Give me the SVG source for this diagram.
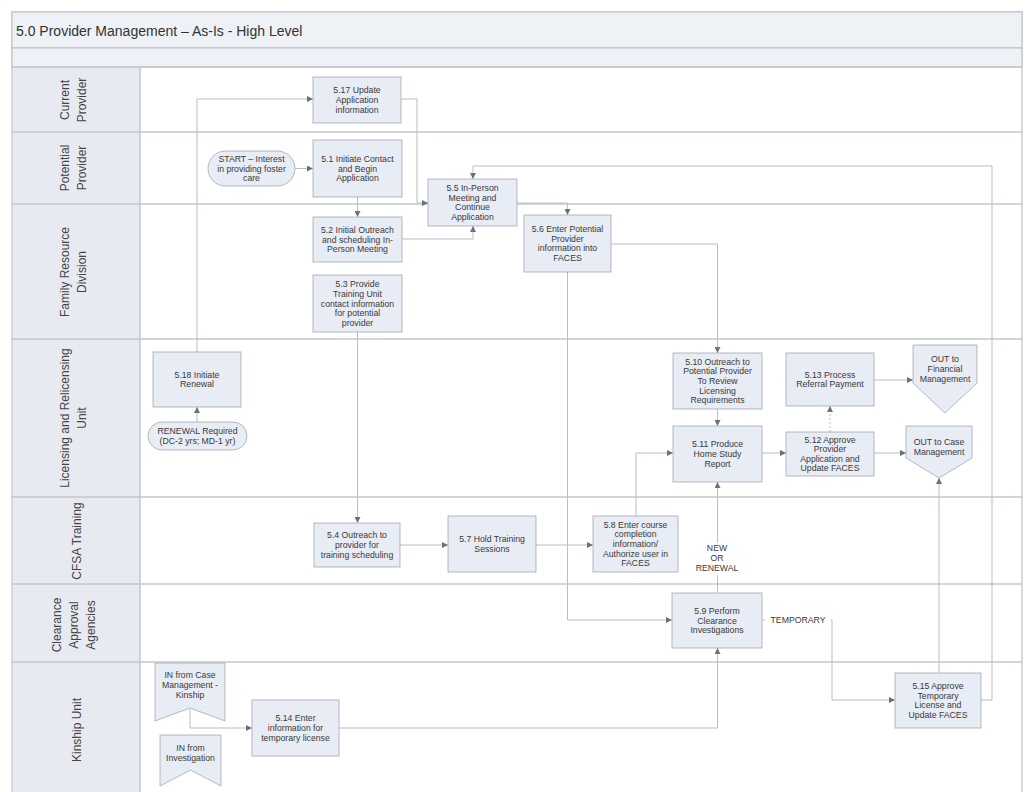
<svg xmlns="http://www.w3.org/2000/svg" width="1030" height="792" viewBox="0 0 1030 792">
<style>
.frame{fill:#ffffff;stroke:#b9bec5;stroke-width:1.2}
.band{fill:#eef1f5;stroke:#b9bec5;stroke-width:1}
.hdr{fill:#e7ebf1;stroke:none}
.sep{stroke:#c3c7cd;stroke-width:1.5}
.title{font-family:"Liberation Sans",Arial,sans-serif;font-size:14px;fill:#333}
.lane{font-family:"Liberation Sans",Arial,sans-serif;font-size:12px;fill:#444;text-anchor:middle}
.box{fill:#e8ecf4;stroke:#a3a9b1;stroke-width:0.8}
.t{font-family:"Liberation Sans",Arial,sans-serif;font-size:8.7px;fill:#3a3a3a;text-anchor:middle}
.c{fill:none;stroke:#b9bec5;stroke-width:1;marker-end:url(#ah)}
</style>
<defs>
<marker id="ah" markerUnits="userSpaceOnUse" markerWidth="6" markerHeight="6" refX="6" refY="3" orient="auto">
<path d="M0,0 L6,3 L0,6 z" fill="#6c7077"/>
</marker>
</defs>

<!-- frame, title, lanes -->
<rect class="frame" x="12" y="12" width="1010" height="782"/>
<rect class="band" x="12" y="12" width="1010" height="36"/>
<text class="title" x="16" y="36">5.0 Provider Management – As-Is - High Level</text>
<rect class="band" x="12" y="48" width="1010" height="19"/>
<rect class="hdr" x="13" y="67" width="127" height="725"/>
<line class="sep" x1="140" y1="67" x2="140" y2="792"/>
<g id="lane-lines">
<line class="sep" x1="12" y1="67" x2="1022" y2="67"/>
<line class="sep" x1="12" y1="132" x2="1022" y2="132"/>
<line class="sep" x1="12" y1="204" x2="1022" y2="204"/>
<line class="sep" x1="12" y1="339" x2="1022" y2="339"/>
<line class="sep" x1="12" y1="497" x2="1022" y2="497"/>
<line class="sep" x1="12" y1="584" x2="1022" y2="584"/>
<line class="sep" x1="12" y1="662" x2="1022" y2="662"/>
</g>
<g id="lane-labels">
<text class="lane" transform="translate(69,100) rotate(-90)"><tspan x="0" dy="0">Current</tspan><tspan x="0" dy="17">Provider</tspan></text>
<text class="lane" transform="translate(69,168) rotate(-90)"><tspan x="0" dy="0">Potential</tspan><tspan x="0" dy="17">Provider</tspan></text>
<text class="lane" transform="translate(69,272) rotate(-90)"><tspan x="0" dy="0">Family Resource</tspan><tspan x="0" dy="17">Division</tspan></text>
<text class="lane" transform="translate(69,418) rotate(-90)"><tspan x="0" dy="0">Licensing and Relicensing</tspan><tspan x="0" dy="17">Unit</tspan></text>
<text class="lane" transform="translate(81,541) rotate(-90)">CFSA Training</text>
<text class="lane" transform="translate(61,625) rotate(-90)"><tspan x="0" dy="0">Clearance</tspan><tspan x="0" dy="17">Approval</tspan><tspan x="0" dy="17">Agencies</tspan></text>
<text class="lane" transform="translate(81,730) rotate(-90)">Kinship Unit</text>
</g>

<!-- connectors -->
<g id="connectors">
<path class="c" d="M295,168.5 H313"/>
<path class="c" d="M357.5,197 V217"/>
<path class="c" d="M402,239 H473 V226"/>
<path class="c" d="M197,352 V99 H313"/>
<path class="c" d="M401,99 H417 V203 H428"/>
<path class="c" d="M981,700 H992 V166 H473 V179"/>
<path class="c" d="M517,203 H567.5 V215"/>
<path class="c" d="M611,244 H717.5 V353"/>
<path class="c" d="M567.5,272 V620 H672"/>
<path class="c" d="M357.5,332 V523"/>
<path class="c" d="M400,545 H448"/>
<path class="c" d="M536,545 H593"/>
<path class="c" d="M636,516 V453 H673"/>
<path class="c" d="M717.5,409 V426"/>
<path class="c" d="M762,453 H786"/>
<path class="c" d="M874,453 H906"/>
<path class="c" d="M874,380 H913"/>
<path class="c" d="M830,432 V406" stroke-dasharray="2,2"/>
<path class="c" d="M717.5,593 V482"/>
<path class="c" d="M762,620 H832 V700 H895"/>
<path class="c" d="M939,673 V478"/>
<path class="c" d="M339,728 H717.5 V648"/>
<path class="c" d="M197,422 V407"/>
<path class="c" d="M190,709 V728 H252"/>
</g>

<!-- nodes -->
<g id="n517"><rect class="box" x="313" y="77" width="88" height="46"/>
<text class="t"><tspan x="357" y="93.4">5.17 Update</tspan><tspan x="357" y="103">Application</tspan><tspan x="357" y="112.6">information</tspan></text></g>

<g id="start"><rect class="box" x="208" y="151" width="87" height="35" rx="17.5"/>
<text class="t"><tspan x="251.5" y="161.9">START – Interest</tspan><tspan x="251.5" y="171.5">in providing foster</tspan><tspan x="251.5" y="181.1">care</tspan></text></g>

<g id="n51"><rect class="box" x="313" y="140" width="89" height="57"/>
<text class="t"><tspan x="357.5" y="161.9">5.1 Initiate Contact</tspan><tspan x="357.5" y="171.5">and Begin</tspan><tspan x="357.5" y="181.1">Application</tspan></text></g>

<g id="n52"><rect class="box" x="313" y="217" width="89" height="45"/>
<text class="t"><tspan x="357.5" y="232.9">5.2 Initial Outreach</tspan><tspan x="357.5" y="242.5">and scheduling In-</tspan><tspan x="357.5" y="252.1">Person Meeting</tspan></text></g>

<g id="n53"><rect class="box" x="313" y="275" width="89" height="57"/>
<text class="t"><tspan x="357.5" y="287.3">5.3 Provide</tspan><tspan x="357.5" y="296.9">Training Unit</tspan><tspan x="357.5" y="306.5">contact information</tspan><tspan x="357.5" y="316.1">for potential</tspan><tspan x="357.5" y="325.7">provider</tspan></text></g>

<g id="n55"><rect class="box" x="428" y="179" width="89" height="47"/>
<text class="t"><tspan x="472.5" y="191.1">5.5 In-Person</tspan><tspan x="472.5" y="200.7">Meeting and</tspan><tspan x="472.5" y="210.3">Continue</tspan><tspan x="472.5" y="219.9">Application</tspan></text></g>

<g id="n56"><rect class="box" x="524" y="215" width="87" height="57"/>
<text class="t"><tspan x="567.5" y="232.1">5.6 Enter Potential</tspan><tspan x="567.5" y="241.7">Provider</tspan><tspan x="567.5" y="251.3">information into</tspan><tspan x="567.5" y="260.9">FACES</tspan></text></g>

<g id="n518"><rect class="box" x="153" y="352" width="88" height="55"/>
<text class="t"><tspan x="197" y="377.7">5.18 Initiate</tspan><tspan x="197" y="387.3">Renewal</tspan></text></g>

<g id="renewal"><rect class="box" x="148" y="422" width="99" height="28" rx="14"/>
<text class="t"><tspan x="197.5" y="434.2">RENEWAL Required</tspan><tspan x="197.5" y="443.8">(DC-2 yrs; MD-1 yr)</tspan></text></g>

<g id="n510"><rect class="box" x="673" y="353" width="89" height="56"/>
<text class="t"><tspan x="717.5" y="364.8">5.10 Outreach to</tspan><tspan x="717.5" y="374.4">Potential Provider</tspan><tspan x="717.5" y="384">To Review</tspan><tspan x="717.5" y="393.6">Licensing</tspan><tspan x="717.5" y="403.2">Requirements</tspan></text></g>

<g id="n513"><rect class="box" x="786" y="353" width="88" height="53"/>
<text class="t"><tspan x="830" y="377.7">5.13 Process</tspan><tspan x="830" y="387.3">Referral Payment</tspan></text></g>

<g id="outfin"><polygon class="box" points="913,345 977,345 977,383 945,413 913,383"/>
<text class="t"><tspan x="945" y="362">OUT to</tspan><tspan x="945" y="372">Financial</tspan><tspan x="945" y="382">Management</tspan></text></g>

<g id="n511"><rect class="box" x="673" y="426" width="89" height="56"/>
<text class="t"><tspan x="717.5" y="447.4">5.11 Produce</tspan><tspan x="717.5" y="457">Home Study</tspan><tspan x="717.5" y="466.6">Report</tspan></text></g>

<g id="n512"><rect class="box" x="786" y="432" width="88" height="44"/>
<text class="t"><tspan x="830" y="442.6">5.12 Approve</tspan><tspan x="830" y="452.2">Provider</tspan><tspan x="830" y="461.8">Application and</tspan><tspan x="830" y="471.4">Update FACES</tspan></text></g>

<g id="outcase"><polygon class="box" points="906,426 972,426 972,458 939,478 906,458"/>
<text class="t"><tspan x="939" y="445">OUT to Case</tspan><tspan x="939" y="455">Management</tspan></text></g>

<g id="n54"><rect class="box" x="314" y="523" width="86" height="44"/>
<text class="t"><tspan x="357" y="538.4">5.4 Outreach to</tspan><tspan x="357" y="548">provider for</tspan><tspan x="357" y="557.6">training scheduling</tspan></text></g>

<g id="n57"><rect class="box" x="448" y="516" width="88" height="56"/>
<text class="t"><tspan x="492" y="542.2">5.7 Hold Training</tspan><tspan x="492" y="551.8">Sessions</tspan></text></g>

<g id="n58"><rect class="box" x="593" y="516" width="85" height="56"/>
<text class="t"><tspan x="635.5" y="527.8">5.8 Enter course</tspan><tspan x="635.5" y="537.4">completion</tspan><tspan x="635.5" y="547">information/</tspan><tspan x="635.5" y="556.6">Authorize user in</tspan><tspan x="635.5" y="566.2">FACES</tspan></text></g>

<g id="lbl-new"><rect x="695" y="543" width="44" height="32" fill="#ffffff"/>
<text class="t"><tspan x="717" y="551">NEW</tspan><tspan x="717" y="561">OR</tspan><tspan x="717" y="571">RENEWAL</tspan></text></g>

<g id="n59"><rect class="box" x="672" y="593" width="90" height="55"/>
<text class="t"><tspan x="717" y="613.9">5.9 Perform</tspan><tspan x="717" y="623.5">Clearance</tspan><tspan x="717" y="633.1">Investigations</tspan></text></g>

<g id="lbl-temp"><rect x="765" y="613" width="66" height="13" fill="#ffffff"/>
<text class="t" x="798" y="623">TEMPORARY</text></g>

<g id="n515"><rect class="box" x="895" y="673" width="86" height="55"/>
<text class="t"><tspan x="938" y="689.1">5.15 Approve</tspan><tspan x="938" y="698.7">Temporary</tspan><tspan x="938" y="708.3">License and</tspan><tspan x="938" y="717.9">Update FACES</tspan></text></g>

<g id="incm"><polygon class="box" points="155,663 225,663 225,721 190,708 155,721"/>
<text class="t"><tspan x="190" y="678">IN from Case</tspan><tspan x="190" y="688">Management -</tspan><tspan x="190" y="698">Kinship</tspan></text></g>

<g id="ininv"><polygon class="box" points="160,735 221,735 221,786 190.5,770 160,786"/>
<text class="t"><tspan x="190.5" y="751">IN from</tspan><tspan x="190.5" y="761">Investigation</tspan></text></g>

<g id="n514"><rect class="box" x="252" y="700" width="87" height="56"/>
<text class="t"><tspan x="295.5" y="721.4">5.14 Enter</tspan><tspan x="295.5" y="731">information for</tspan><tspan x="295.5" y="740.6">temporary license</tspan></text></g>
</svg>
